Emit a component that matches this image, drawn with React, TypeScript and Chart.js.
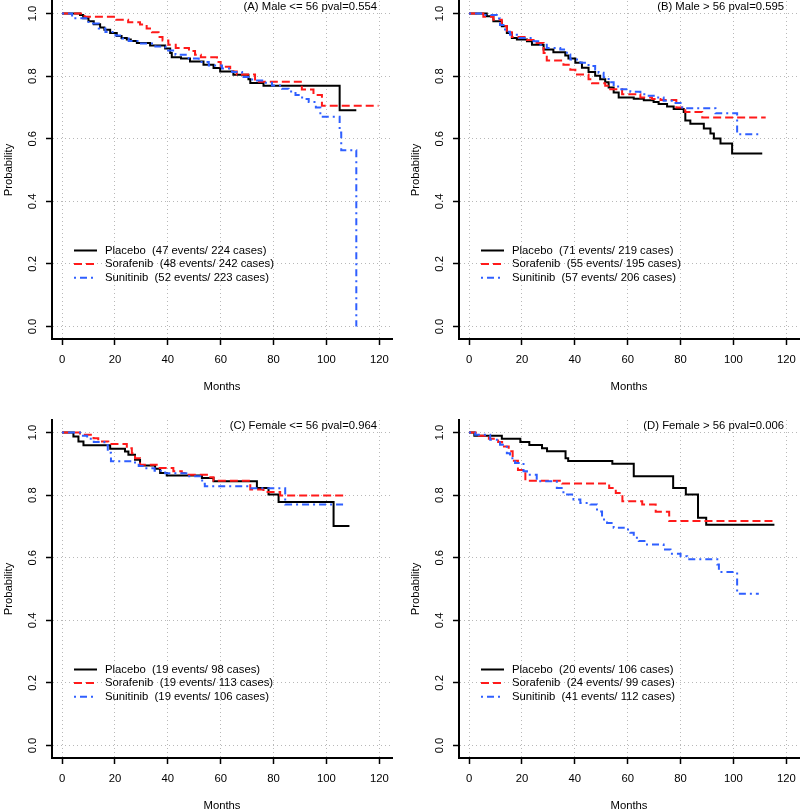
import React, { useEffect, useRef } from "react";
import { Chart, registerables } from "chart.js";

Chart.register(...registerables);

// ---------- tick labels / categories ----------
const xTicks = [0, 20, 40, 60, 80, 100, 120];
const yTicks = [0, 0.2, 0.4, 0.6, 0.8, 1.0];
const seriesNames = ["Placebo", "Sorafenib", "Sunitinib"];

const panelTitles = [
  "(A) Male <= 56 pval=0.554",
  "(B) Male > 56 pval=0.595",
  "(C) Female <= 56 pval=0.964",
  "(D) Female > 56 pval=0.006",
];
const eventsA = [47, 48, 52];
const casesA = [224, 242, 223];
const eventsB = [71, 55, 57];
const casesB = [219, 195, 206];
const eventsC = [19, 19, 19];
const casesC = [98, 113, 106];
const eventsD = [20, 24, 41];
const casesD = [106, 99, 112];

// ---------- survival curves [month, probability] ----------
const placeboA = [[0,1],[6.8,0.995],[8,0.985],[10,0.975],[12,0.966],[14.4,0.955],[16,0.948],[18.2,0.938],[20.7,0.928],[22.5,0.922],[24.5,0.917],[26,0.912],[28.3,0.906],[33.3,0.898],[39,0.888],[40.9,0.874],[41.5,0.86],[45,0.856],[48.4,0.847],[53.5,0.836],[57.3,0.826],[59.8,0.815],[64.8,0.804],[70.5,0.79],[71.2,0.778],[76.2,0.769],[105,0.691],[111.3,0.691]];
const sorafenibA = [[0,1],[8.5,0.99],[20.5,0.98],[25,0.972],[29.5,0.965],[32,0.952],[34,0.94],[36.5,0.925],[38,0.914],[40.2,0.9],[43,0.89],[48,0.88],[50.3,0.868],[52.5,0.86],[58.6,0.845],[60,0.83],[63.6,0.815],[66.1,0.805],[73,0.782],[90.7,0.757],[95.1,0.74],[98.3,0.705],[119.7,0.705]];
const sunitinibA = [[0,1],[3.8,0.985],[10,0.968],[13.9,0.952],[16.4,0.941],[20.2,0.93],[22.7,0.92],[25.2,0.912],[29,0.904],[35.3,0.895],[39.1,0.882],[42.9,0.868],[47.9,0.856],[51.7,0.845],[55.5,0.834],[60.5,0.824],[64.3,0.813],[68.1,0.797],[71.9,0.786],[75.7,0.779],[79.4,0.77],[83.2,0.76],[85.7,0.751],[88.3,0.74],[90.8,0.727],[93.3,0.717],[96,0.7],[97.7,0.67],[105,0.62],[105.6,0.563],[111.3,0]];

const placeboB = [[0,1],[6.7,0.991],[9.2,0.975],[12.4,0.959],[14.3,0.938],[16.2,0.922],[18.1,0.917],[21.9,0.911],[23.8,0.9],[28.2,0.885],[31.9,0.876],[36.4,0.866],[37.6,0.856],[40.2,0.843],[42.7,0.827],[45.2,0.813],[47.7,0.801],[49.6,0.79],[51.5,0.78],[52.8,0.764],[54.7,0.748],[56.6,0.732],[62.3,0.728],[66.1,0.723],[69.8,0.717],[71.7,0.711],[74.9,0.703],[77.4,0.695],[81.2,0.685],[81.8,0.658],[83.7,0.648],[88.8,0.633],[91.3,0.617],[92.6,0.601],[95.1,0.585],[99.5,0.553],[110.9,0.553]];
const sorafenibB = [[0,1],[5.4,0.99],[9.2,0.98],[12.4,0.96],[14.3,0.94],[16.2,0.925],[21.9,0.915],[24.4,0.906],[28.2,0.874],[29.4,0.85],[35.7,0.836],[38.3,0.82],[40.2,0.805],[45.2,0.79],[46.5,0.777],[51.5,0.769],[53.4,0.758],[57.9,0.742],[64.8,0.732],[69.2,0.727],[72.4,0.724],[78.4,0.7],[81.8,0.685],[88.2,0.668],[112.2,0.668]];
const sunitinibB = [[0,1],[5.4,0.995],[10.5,0.984],[11.7,0.963],[13.6,0.942],[15.5,0.932],[18.1,0.922],[24.4,0.911],[26.9,0.9],[29.4,0.89],[34.5,0.885],[37,0.869],[38.3,0.853],[42.1,0.843],[45.2,0.832],[47.7,0.821],[49,0.811],[50.9,0.796],[52.8,0.78],[54.7,0.767],[57.2,0.758],[61,0.75],[64.8,0.742],[67.3,0.737],[71.1,0.732],[73.6,0.721],[76.8,0.714],[80,0.7],[81.8,0.697],[93.2,0.681],[101.4,0.614],[110.3,0.614]];

const placeboC = [[0,1],[4.3,0.987],[6.2,0.971],[8.1,0.959],[18.2,0.948],[23.8,0.939],[25.1,0.929],[27.6,0.913],[29.5,0.895],[35.2,0.884],[37.1,0.871],[39.6,0.863],[52.9,0.855],[57.3,0.844],[73.7,0.823],[78.1,0.802],[81.9,0.778],[102.7,0.701],[108.7,0.701]];
const sorafenibC = [[0,1],[6.8,0.993],[11.9,0.982],[13.7,0.971],[17.5,0.963],[24.5,0.95],[26.4,0.934],[27.6,0.918],[29.5,0.897],[35.8,0.887],[42.1,0.876],[45.3,0.871],[47.2,0.865],[54.8,0.857],[57.3,0.846],[71.2,0.818],[76.2,0.81],[82.5,0.799],[106.5,0.799]];
const sunitinibC = [[0,1],[6.8,0.99],[9.5,0.98],[12,0.97],[16,0.96],[17.3,0.935],[18.5,0.908],[27.6,0.9],[29,0.893],[31.5,0.886],[35,0.878],[39,0.87],[47,0.86],[53,0.836],[54,0.828],[71,0.822],[84.4,0.77],[107.8,0.77]];

const placeboD = [[0,1],[2,0.99],[12.4,0.98],[19.4,0.97],[22.8,0.96],[27.6,0.95],[29.5,0.94],[36.5,0.918],[37.5,0.909],[54.2,0.9],[62.3,0.86],[77.2,0.823],[82,0.802],[86.6,0.728],[89.7,0.705],[115.5,0.705]];
const sorafenibD = [[0,1],[2.5,0.99],[7.5,0.98],[11,0.97],[12.5,0.955],[15,0.94],[16.5,0.91],[18.5,0.88],[21.3,0.846],[35.2,0.837],[53,0.823],[55.5,0.807],[58,0.78],[65.5,0.77],[70.6,0.747],[75.7,0.717],[115.5,0.717]];
const sunitinibD = [[0,1],[2.3,0.993],[8,0.977],[11.7,0.961],[14.3,0.934],[15.5,0.918],[17.4,0.903],[20.6,0.876],[21.9,0.865],[25.6,0.844],[33.2,0.823],[35.7,0.802],[39.5,0.786],[42.1,0.775],[45.9,0.77],[48.4,0.748],[50.3,0.722],[52.2,0.711],[54.7,0.696],[58.5,0.69],[61,0.68],[62.3,0.664],[64.2,0.653],[67.3,0.642],[73.6,0.626],[76.2,0.613],[80,0.605],[82.5,0.595],[93.9,0.578],[94.5,0.554],[101.4,0.485],[109.6,0.485]];

// ---------- styles ----------
const FONT_FAMILY = '"Liberation Sans", Arial, Helvetica, sans-serif';
const FONT_SIZE = 11.3;
const seriesColors = ["#000000", "#ff1a1a", "#2f5fff"];
const seriesDash = [[], [8, 4], [2, 4, 7, 4]];
const seriesOrder = [3, 2, 1];

const CANVAS_W = 407;
const CANVAS_H = 420;

const panels = [
  { title: panelTitles[0], curves: [placeboA, sorafenibA, sunitinibA], events: eventsA, cases: casesA, left: 0, top: -14 },
  { title: panelTitles[1], curves: [placeboB, sorafenibB, sunitinibB], events: eventsB, cases: casesB, left: 407, top: -14 },
  { title: panelTitles[2], curves: [placeboC, sorafenibC, sunitinibC], events: eventsC, cases: casesC, left: 0, top: 405 },
  { title: panelTitles[3], curves: [placeboD, sorafenibD, sunitinibD], events: eventsD, cases: casesD, left: 407, top: 405 },
];

const overlayPlugin = {
  id: "kmOverlay",
  afterDraw(chart: any, _args: any, opts: any) {
    const { ctx, chartArea } = chart;
    ctx.save();
    ctx.font = `${FONT_SIZE}px ${FONT_FAMILY}`;
    ctx.fillStyle = "#000";
    ctx.textBaseline = "middle";
    ctx.textAlign = "right";
    ctx.fillText(opts.title, chartArea.right - 15, chartArea.top + 6);
    chart.data.datasets.forEach((ds: any, i: number) => {
      const y = chartArea.top + 249.5 + i * 13.6;
      ctx.save();
      ctx.strokeStyle = ds.borderColor;
      ctx.lineWidth = ds.borderWidth;
      ctx.setLineDash(ds.borderDash || []);
      ctx.beginPath();
      ctx.moveTo(chartArea.left + 22, y);
      ctx.lineTo(chartArea.left + 45, y);
      ctx.stroke();
      ctx.restore();
      ctx.textAlign = "left";
      ctx.fillText(ds.label, chartArea.left + 53, y);
    });
    ctx.restore();
  },
};

function Panel({ cfg }: { cfg: any }) {
  const ref = useRef<HTMLCanvasElement | null>(null);
  useEffect(() => {
    if (!ref.current) return;
    const font = { family: FONT_FAMILY, size: FONT_SIZE };
    const datasets = cfg.curves.map((curve: number[][], i: number) => ({
      label: `${seriesNames[i]}  (${cfg.events[i]} events/ ${cfg.cases[i]} cases)`,
      data: curve.map(([x, y]) => ({ x, y })),
      borderColor: seriesColors[i],
      backgroundColor: seriesColors[i],
      borderWidth: 2,
      borderDash: seriesDash[i],
      stepped: "before",
      pointRadius: 0,
      fill: false,
      order: seriesOrder[i],
    }));
    const gridCommon = {
      color: "#b8b8b8",
      lineWidth: 1,
      drawTicks: true,
      tickLength: 6,
      tickColor: "#000",
      tickWidth: 1.5,
    };
    const borderCommon = { display: true, color: "#000", width: 2, dash: [1, 3] };
    const chart = new Chart(ref.current, {
      type: "line",
      data: { datasets },
      plugins: [overlayPlugin],
      options: {
        animation: false,
        responsive: false,
        events: [],
        layout: { padding: { top: 15, right: 15, left: 0, bottom: 0 } },
        plugins: {
          legend: { display: false },
          tooltip: { enabled: false },
          kmOverlay: { title: cfg.title },
        } as any,
        scales: {
          x: {
            type: "linear",
            min: -3.8,
            max: 124.8,
            afterBuildTicks: (s: any) => { s.ticks = xTicks.map((v) => ({ value: v })); },
            afterFit: (s: any) => { s.height = 67; },
            grid: gridCommon,
            border: borderCommon,
            ticks: { font, color: "#000", padding: 8, maxRotation: 0, autoSkip: false, callback: (v: any) => String(v) },
            title: { display: true, text: "Months", font, color: "#000", padding: { top: 0, bottom: 12 } },
          },
          y: {
            type: "linear",
            min: -0.04,
            max: 1.04,
            afterBuildTicks: (s: any) => { s.ticks = yTicks.map((v) => ({ value: v })); },
            afterFit: (s: any) => { s.width = 52; },
            grid: gridCommon,
            border: borderCommon,
            ticks: { font, color: "#000", padding: 5.5, minRotation: 90, maxRotation: 90, crossAlign: "center", autoSkip: false, callback: (v: any) => Number(v).toFixed(1) },
            title: { display: true, text: "Probability", font, color: "#000", padding: { top: 2, bottom: 0 } },
          },
        },
      } as any,
    });
    return () => chart.destroy();
  }, [cfg]);
  return (
    <div style={{ position: "absolute", left: cfg.left, top: cfg.top, width: CANVAS_W, height: CANVAS_H }}>
      <canvas ref={ref} width={CANVAS_W} height={CANVAS_H} style={{ width: CANVAS_W, height: CANVAS_H, display: "block" }} />
    </div>
  );
}

export default function App() {
  return (
    <div style={{ position: "absolute", left: 0, top: 0, width: 800, height: 811, overflow: "hidden", background: "#fff" }}>
      {panels.map((p, i) => (
        <Panel key={i} cfg={p} />
      ))}
    </div>
  );
}
